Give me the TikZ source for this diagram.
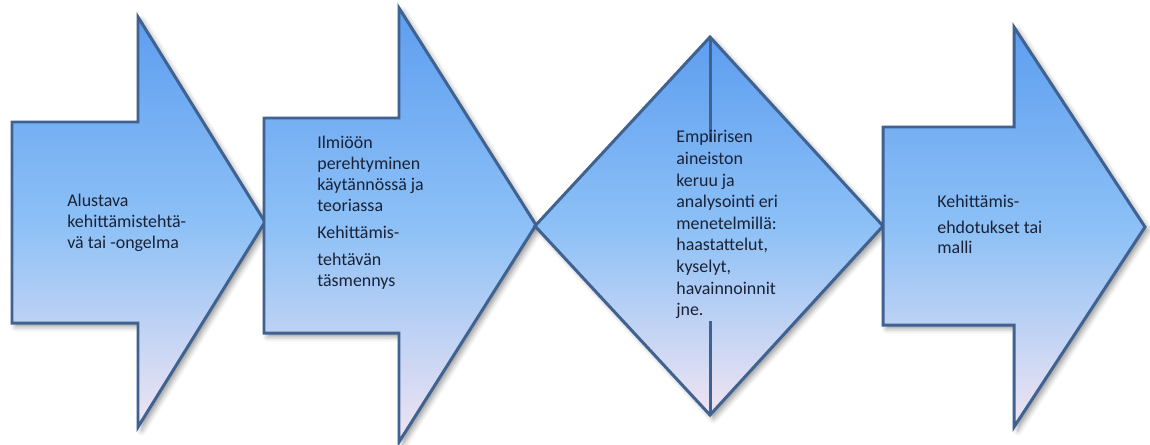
\documentclass[tikz,border=0pt]{standalone}
\usepackage{fontspec}
\setmainfont{Carlito}
\usetikzlibrary{shadows.blur}
\usepackage{xcolor}

\definecolor{arrowtop}{RGB}{94,158,240}
\definecolor{arrowmid}{RGB}{140,192,246}
\definecolor{arrowbot}{RGB}{240,228,242}
\definecolor{arrowline}{RGB}{63,98,144}
\definecolor{textcol}{RGB}{26,34,54}

\tikzset{
	stage/.style={draw=arrowline, line width=1.7pt, line join=miter,
		top color=arrowtop, bottom color=arrowbot, middle color=arrowmid,
		blur shadow={shadow xshift=2pt, shadow yshift=-2pt, shadow blur radius=3pt, shadow opacity=40}},
	% first baseline sits on the node's coordinate
	stagetext/.style={anchor=north west, yshift=9pt, align=left, inner sep=0pt, text=textcol,
		font=\fontsize{10.2}{11.9}\selectfont, execute at begin node={\rule{0pt}{9pt}}}
}

\begin{document}
\begin{tikzpicture}[x=0.02cm, y=-0.02cm]
			\useasboundingbox (0,0) rectangle (1150,444);
			% Step 1
			\path[stage] (12,122) -- (138,122) -- (138,17) -- (265,222) -- (138,427) -- (138,323) -- (12,323) -- cycle;
			\node[stagetext] (alustava) at (67,210) {Alustava\\kehittämistehtä-\\vä tai -ongelma};
			% Step 2
			\path[stage] (264,118) -- (399,118) -- (399,8) -- (536,225) -- (399,442) -- (399,333) -- (264,333) -- cycle;
			\node[stagetext] (ilmio) at (317,152) {Ilmiöön\\perehtyminen\\käytännössä ja\\teoriassa\\[3.4pt]Kehittämis-\\[3.4pt]tehtävän\\täsmennys};
			% Step 3 (diamond)
			\path[stage] (535,226) -- (710,37) coordinate (dtop) -- (883,226) -- (710,415) coordinate (dbot) -- cycle;
			\coordinate (dcut1) at (710,142);
			\coordinate (dcut2) at (710,321);
			\draw[arrowline, line width=1.7pt] (dtop) -- (dcut1);
			\draw[arrowline, line width=1.7pt] (dcut2) -- (dbot);
			\node[stagetext, font=\fontsize{10.2}{12.3}\selectfont] (empiria) at (676,146) {Empiirisen\\aineiston\\keruu ja\\analysointi eri\\menetelmillä:\\haastattelut,\\kyselyt,\\havainnoinnit\\jne.};
			% Step 4
			\path[stage] (883,127) -- (1014,127) -- (1014,27) -- (1145,227) -- (1014,427) -- (1014,325) -- (883,325) -- cycle;
			\node[stagetext, font=\fontsize{10.2}{11.4}\selectfont] (ehdotus) at (937,211) {Kehittämis-\\[3.2pt]ehdotukset tai\\malli};
		\end{tikzpicture}
\end{document}
